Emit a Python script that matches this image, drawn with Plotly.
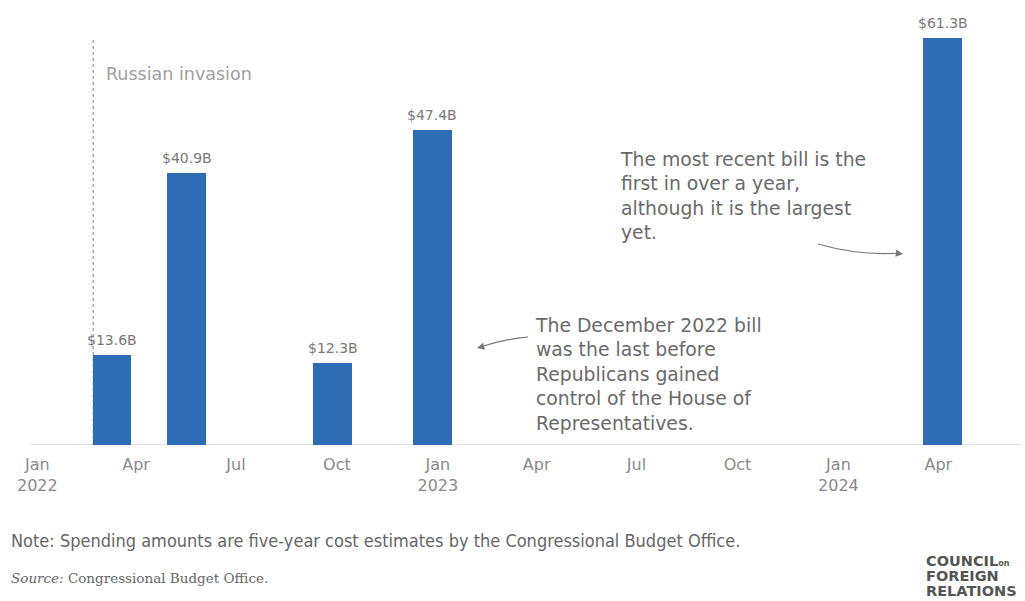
import plotly.graph_objects as go

# Data
bill_dates = ["2022-03-10", "2022-05-17", "2022-09-27", "2022-12-27", "2024-04-05"]
bill_values = [13.6, 40.9, 12.3, 47.4, 61.3]
bill_labels = ["$13.6B", "$40.9B", "$12.3B", "$47.4B", "$61.3B"]

tick_dates = ["2022-01-01", "2022-04-01", "2022-07-01", "2022-10-01", "2023-01-01",
              "2023-04-01", "2023-07-01", "2023-10-01", "2024-01-01", "2024-04-01"]
tick_text = ["Jan<br>2022", "Apr", "Jul", "Oct", "Jan<br>2023",
             "Apr", "Jul", "Oct", "Jan<br>2024", "Apr"]

invasion_date = "2022-02-21"

FONT = "DejaVu Sans"
BLUE = "#2E6DB4"
GRAY = "#6a6a6a"

W, H = 1025, 601
ML, MR, MT, MB = 0, 0, 20, 156
PH = H - MT - MB  # 425
YMAX = PH / 6.64


def px(x):
    return (x - ML) / (W - ML - MR)


def py(y):
    return (H - MB - y) / PH


fig = go.Figure()
fig.add_trace(go.Bar(
    x=bill_dates, y=bill_values,
    width=35 * 24 * 3600 * 1000,
    marker=dict(color=BLUE, line=dict(width=0)),
    hoverinfo="skip",
))

annotations = []
for d, v, lab in zip(bill_dates, bill_values, bill_labels):
    annotations.append(dict(x=d, y=v, text=lab, showarrow=False, yanchor="bottom",
                            yshift=5, font=dict(family=FONT, size=14, color="#7a7a7a")))

annotations.append(dict(x=px(104), y=py(74), xref="paper", yref="paper", text="Russian invasion",
                        showarrow=False, xanchor="left", yanchor="middle",
                        font=dict(family=FONT, size=17.5, color="#a0a0a0")))

annotations.append(dict(x=px(533), y=py(313), xref="paper", yref="paper",
                        text="The December 2022 bill<br>was the last before<br>Republicans gained<br>control of the House of<br>Representatives.",
                        showarrow=False, xanchor="left", yanchor="top", align="left",
                        font=dict(family=FONT, size=18.8, color=GRAY)))

annotations.append(dict(x=px(618), y=py(147), xref="paper", yref="paper",
                        text="The most recent bill is the<br>first in over a year,<br>although it is the largest<br>yet.",
                        showarrow=False, xanchor="left", yanchor="top", align="left",
                        font=dict(family=FONT, size=18.8, color=GRAY)))

# arrowheads
annotations.append(dict(x=px(477), y=py(348), xref="paper", yref="paper", text="",
                        ax=8, ay=-2, showarrow=True, arrowhead=2, arrowsize=1.2,
                        arrowwidth=1.2, arrowcolor="#777"))
annotations.append(dict(x=px(903), y=py(254), xref="paper", yref="paper", text="",
                        ax=-8, ay=-1, showarrow=True, arrowhead=2, arrowsize=1.2,
                        arrowwidth=1.2, arrowcolor="#777"))

annotations.append(dict(x=px(9), y=py(540), xref="paper", yref="paper",
                        text="Note: Spending amounts are five-year cost estimates by the Congressional Budget Office.",
                        showarrow=False, xanchor="left", yanchor="middle",
                        font=dict(family="DejaVu Sans Condensed", size=18, color="#666")))
annotations.append(dict(x=px(9), y=py(578), xref="paper", yref="paper",
                        text="<i>Source:</i> Congressional Budget Office.",
                        showarrow=False, xanchor="left", yanchor="middle",
                        font=dict(family="DejaVu Serif", size=13.5, color="#666")))
for txt, yy in [("COUNCIL<span style='font-size:8px'>on</span>", 561),
                ("FOREIGN", 576), ("RELATIONS", 591)]:
    annotations.append(dict(x=px(924), y=py(yy), xref="paper", yref="paper",
                            text="<b>" + txt + "</b>",
                            showarrow=False, xanchor="left", yanchor="middle", align="left",
                            font=dict(family="DejaVu Sans", size=14.5, color="#555")))

shapes = [
    dict(type="line", xref="paper", yref="y", x0=px(30), x1=px(1022), y0=0, y1=0,
         line=dict(color="#dddddd", width=1.5), layer="below"),
    dict(type="line", xref="x", yref="paper", x0=invasion_date, x1=invasion_date,
         y0=0, y1=py(38), line=dict(color="#aaaaaa", width=1.5, dash="dot"), layer="below"),
    dict(type="path", xref="paper", yref="paper",
         path=f"M {px(528)},{py(337)} Q {px(505)},{py(339)} {px(480)},{py(347)}",
         line=dict(color="#777", width=1.2)),
    dict(type="path", xref="paper", yref="paper",
         path=f"M {px(818)},{py(244)} Q {px(860)},{py(256)} {px(900)},{py(253)}",
         line=dict(color="#777", width=1.2)),
]

fig.update_layout(
    width=W, height=H,
    margin=dict(l=ML, r=MR, t=MT, b=MB),
    paper_bgcolor="white", plot_bgcolor="white",
    showlegend=False,
    bargap=0,
    xaxis=dict(type="date", range=["2021-11-28", "2024-06-19"],
               tickvals=tick_dates, ticktext=tick_text,
               showgrid=False, zeroline=False, showline=False, ticks="",
               tickfont=dict(family=FONT, size=16, color="#8a8a8a"),
               ticklabelstandoff=8),
    yaxis=dict(range=[0, YMAX], visible=False, showgrid=False, zeroline=False),
    annotations=annotations,
    shapes=shapes,
)

fig.write_html("out.html")
